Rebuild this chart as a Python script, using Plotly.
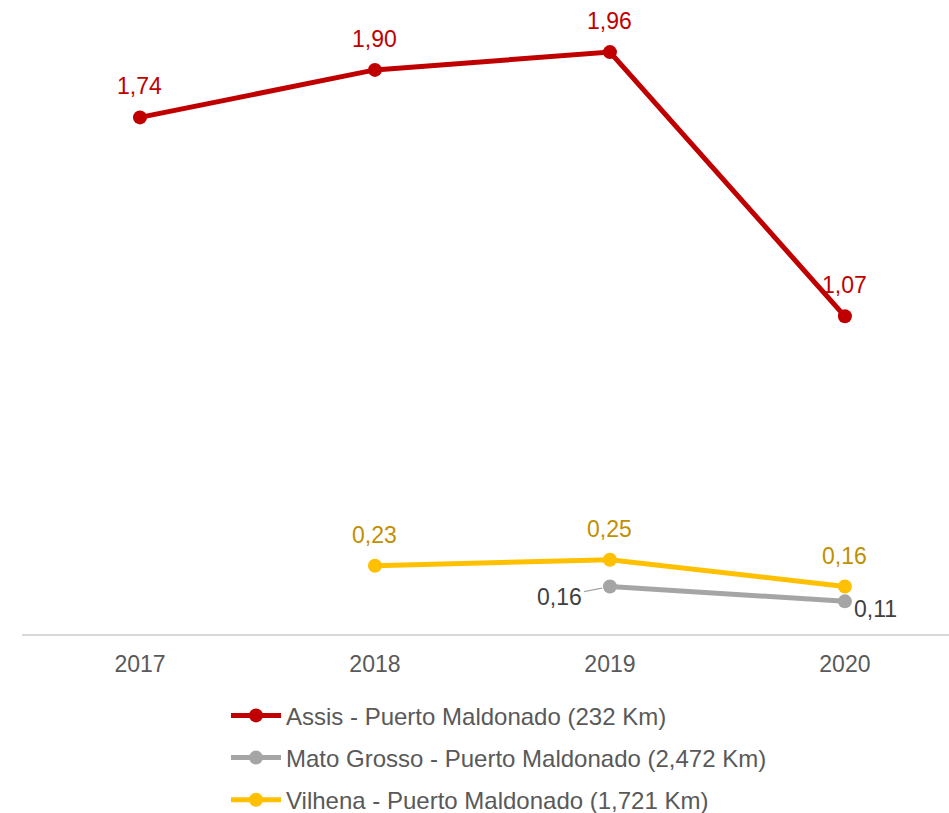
import plotly.graph_objects as go

# Route cost series by year
years = ["2017", "2018", "2019", "2020"]
assis = [1.74, 1.90, 1.96, 1.07]
mato_grosso = [None, None, 0.16, 0.11]
vilhena = [None, 0.23, 0.25, 0.16]

series_names = [
    "Assis - Puerto Maldonado (232 Km)",
    "Mato Grosso - Puerto Maldonado (2,472 Km)",
    "Vilhena - Puerto Maldonado (1,721 Km)",
]
line_colors = ["#C00000", "#A5A5A5", "#FFC000"]
label_colors = ["#C00000", "#404040", "#BF9000"]

FONT = "Liberation Sans, Arial, sans-serif"

# year categories placed at integer positions on a linear axis
xpos = list(range(len(years)))


def fmt(v):
    return f"{v:.2f}".replace(".", ",")


fig = go.Figure()
for i, (name, vals) in enumerate(zip(series_names, [assis, mato_grosso, vilhena])):
    fig.add_trace(go.Scatter(
        x=xpos, y=vals, name=name, mode="lines+markers",
        line=dict(color=line_colors[i], width=5),
        marker=dict(color=line_colors[i], size=14),
        legendgroup=f"g{i}", connectgaps=False, hoverinfo="skip",
    ))

annotations = []
# Labels above the points for Assis and Vilhena
for vals, col in [(assis, label_colors[0]), (vilhena, label_colors[2])]:
    for x, v in zip(xpos, vals):
        if v is None:
            continue
        annotations.append(dict(
            x=x, y=v, xref="x", yref="y", text=fmt(v), showarrow=False, yshift=31,
            font=dict(family=FONT, size=23, color=col),
        ))

# Mato Grosso labels: left of 2019 point with a leader, lower right of 2020
annotations.append(dict(
    x=xpos[2], y=mato_grosso[2], xref="x", yref="y", text=fmt(mato_grosso[2]),
    showarrow=True, arrowhead=0, arrowwidth=1.2, arrowcolor="#A5A5A5",
    ax=-50, ay=10, standoff=8,
    font=dict(family=FONT, size=23, color=label_colors[1]),
))
annotations.append(dict(
    x=xpos[3], y=mato_grosso[3], xref="x", yref="y", text=fmt(mato_grosso[3]),
    showarrow=False, xshift=31, yshift=-8,
    font=dict(family=FONT, size=23, color=label_colors[1]),
))

fig.update_layout(
    width=949, height=813,
    margin=dict(l=22, r=0, t=0, b=179, autoexpand=False),
    paper_bgcolor="white", plot_bgcolor="white",
    font=dict(family=FONT, size=23, color="#595959"),
    xaxis=dict(
        range=[-0.502, 3.443], tickvals=xpos, ticktext=years,
        showgrid=False, zeroline=False, ticks="", ticklabelstandoff=9,
        showline=True, linecolor="#D9D9D9", linewidth=1.5,
        tickfont=dict(family=FONT, size=23, color="#595959"),
    ),
    yaxis=dict(
        range=[0, 634 / 296.9], showticklabels=False, showline=False,
        showgrid=False, zeroline=False, ticks="",
    ),
    showlegend=True,
    legend=dict(
        orientation="v", x=(226 - 22) / 927, xanchor="left",
        y=-0.0935, yanchor="top",
        font=dict(family=FONT, size=24, color="#595959"),
        itemwidth=50, tracegroupgap=8,
        bgcolor="rgba(0,0,0,0)",
    ),
    annotations=annotations,
)

fig.write_html("out.html")
